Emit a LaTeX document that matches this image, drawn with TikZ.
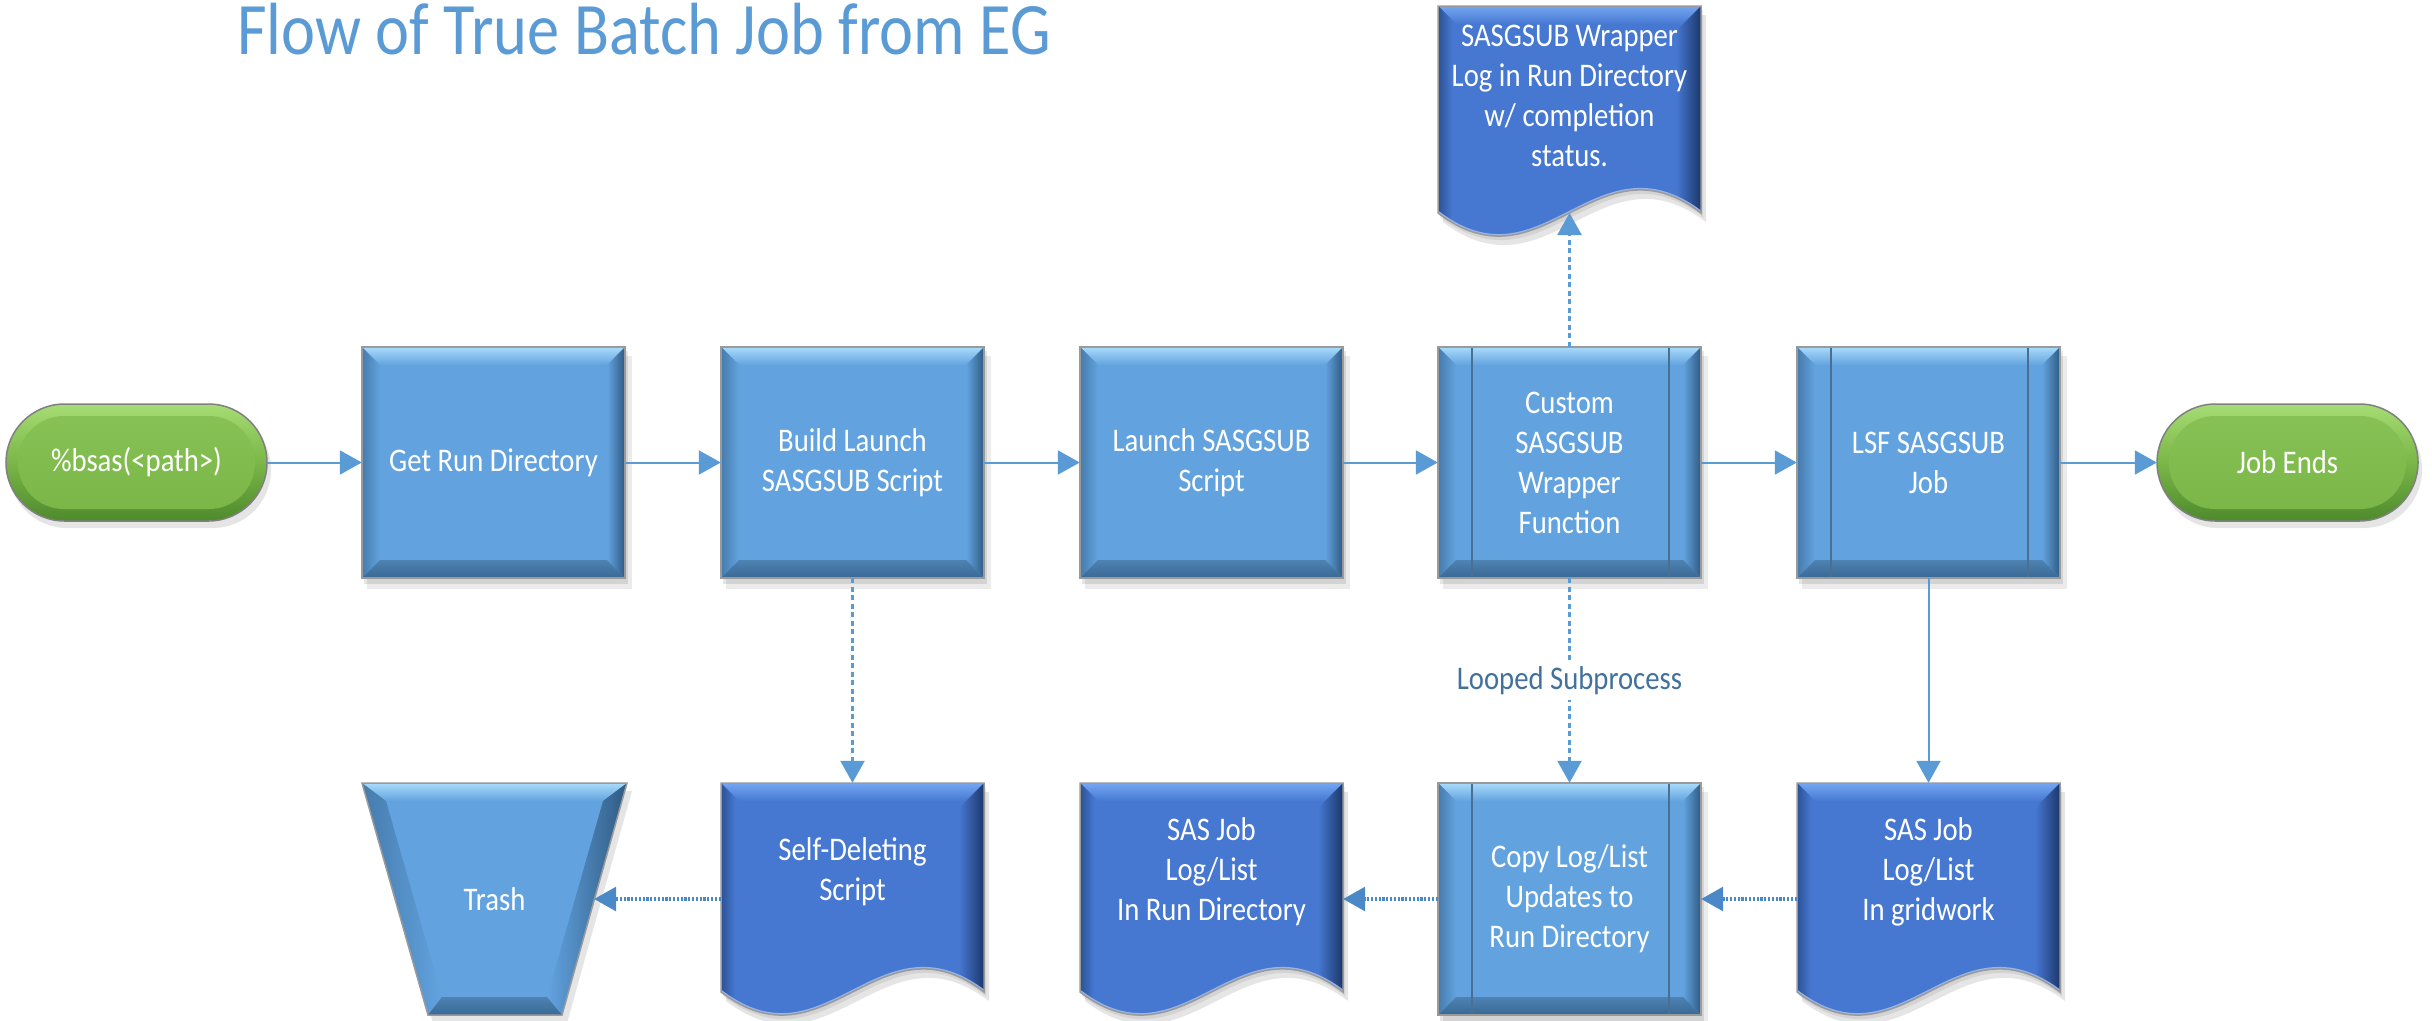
\documentclass[tikz,border=0pt]{standalone}
\usepackage{fontspec}
\setmainfont[FakeStretch=0.87]{Carlito}
\usetikzlibrary{arrows.meta}
\definecolor{boxmain}{HTML}{62A3DF}
\definecolor{bevlight}{HTML}{A9DBFB}
\definecolor{boxdark}{HTML}{2F5A82}
\definecolor{docmain}{HTML}{4678D2}
\definecolor{doclight}{HTML}{74A6F2}
\definecolor{docdark}{HTML}{1C376A}
\definecolor{grnmain}{HTML}{7AB648}
\definecolor{grnlight}{HTML}{A6DC74}
\definecolor{grndark}{HTML}{4E8A2C}
\definecolor{edgegray}{HTML}{9A9A9A}
\definecolor{linec}{HTML}{5B9BD5}
\definecolor{dotc}{HTML}{4A88C8}
\definecolor{titlec}{HTML}{5B9BD5}
\definecolor{labelc}{HTML}{41719C}
\definecolor{vlinec}{HTML}{4A6F94}

\tikzset{
  txt/.style={text=white, align=center, font=\fontsize{33}{40}\selectfont, inner sep=0pt},
  procnode/.style={txt, minimum width=263pt, minimum height=231pt},
  termnode/.style={txt, minimum width=261pt, minimum height=117pt},
  docnode/.style={inner sep=0pt, minimum width=263pt, minimum height=232pt},
  flow/.style={draw=linec, line width=2pt, -{Triangle[length=22pt,width=24pt]}},
  dashflow/.style={flow, line width=2.4pt, dash pattern=on 5pt off 3.5pt},
  dotflow/.style={flow, draw=dotc, line width=3.2pt, dash pattern=on 2.2pt off 1.6pt},
  looplabel/.style={fill=white, text=labelc, font=\fontsize{33}{40}\selectfont, inner sep=5pt},
}

% process box with bevel: left x, top y, height
\newcommand\procbox[3]{%
\begin{scope}[shift={(#1,#2)}]
 \fill[black,opacity=.08] (5,9) rectangle (270,#3+11);
 \fill[black,opacity=.10] (2,4) rectangle (266,#3+6);
 \fill[boxmain] (0,0) rectangle (263,#3);
 \shade[top color=bevlight, bottom color=boxmain] (0,0) -- (263,0) -- (245,18) -- (18,18) -- cycle;
 \shade[left color=boxdark!55!boxmain, right color=boxmain] (0,0) -- (18,18) -- (18,#3-18) -- (0,#3) -- cycle;
 \shade[left color=boxmain, right color=boxdark] (263,0) -- (245,18) -- (245,#3-18) -- (263,#3) -- cycle;
 \shade[top color=boxmain!80!black, bottom color=boxdark!80!boxmain] (0,#3) -- (18,#3-18) -- (245,#3-18) -- (263,#3) -- cycle;
 \draw[edgegray, line width=1.5pt] (0,0) rectangle (263,#3);
\end{scope}}

% predefined-process side lines
\newcommand\predef[3]{%
\begin{scope}[shift={(#1,#2)}]
 \draw[vlinec, line width=1.5pt] (34,1) -- (34,#3-1) (231,1) -- (231,#3-1);
\end{scope}}

% document shape: left x, top y, edge length
\newcommand\docshape[3]{%
\begin{scope}[shift={(#1,#2)}]
 \fill[black,opacity=.10] (5,9) -- (268,9) -- (268,#3+9) .. controls (163,#3-71) and (110,#3+89) .. (5,#3+9) -- cycle;
 \fill[black,opacity=.08] (2,4) -- (265,4) -- (265,#3+4) .. controls (160,#3-76) and (107,#3+84) .. (2,#3+4) -- cycle;
 \begin{scope}
  \clip (0,0) -- (263,0) -- (263,#3) .. controls (158,#3-80) and (105,#3+80) .. (0,#3) -- cycle;
  \fill[docmain] (0,0) rectangle (263,#3+40);
  \shade[top color=doclight, bottom color=docmain] (0,0) -- (263,0) -- (245,18) -- (18,18) -- cycle;
  \shade[left color=docmain, right color=docdark] (263,0) -- (238,25) -- (238,#3+40) -- (263,#3+40) -- cycle;
  \shade[left color=docdark!60!docmain, right color=docmain] (0,0) -- (14,14) -- (14,#3+40) -- (0,#3+40) -- cycle;
  \draw[docmain!55!white, line width=4pt] (263,#3) .. controls (158,#3-80) and (105,#3+80) .. (0,#3);
 \end{scope}
 \draw[edgegray, line width=1.5pt] (0,0) -- (263,0) -- (263,#3) .. controls (158,#3-80) and (105,#3+80) .. (0,#3) -- cycle;
\end{scope}}

% terminator: left x, top y
\newcommand\termshape[2]{%
\begin{scope}[shift={(#1,#2)}]
 \fill[black,opacity=.10, rounded corners=58pt] (3,7) rectangle (265,124);
 \shade[rounded corners=58.5pt, top color=grnlight, bottom color=grndark, middle color=grnmain] (0,0) rectangle (261,117);
 \shade[rounded corners=46pt, top color=grnmain!70!grnlight, bottom color=grnmain] (12,12) rectangle (249,105);
 \draw[gray, line width=1.5pt, rounded corners=58.5pt] (0,0) rectangle (261,117);
\end{scope}}

\begin{document}
\begin{tikzpicture}[x=1pt,y=-1pt]
\fill[white] (0,0) rectangle (2432,1020);
\useasboundingbox (0,0) rectangle (2432,1020);

% ---- shapes ----
\termshape{6}{404}
\termshape{2157}{404}
\procbox{362}{347}{231}
\procbox{721}{347}{231}
\procbox{1080}{347}{231}
\procbox{1438}{347}{231}\predef{1438}{347}{231}
\procbox{1797}{347}{231}\predef{1797}{347}{231}
\docshape{1438}{6}{207}
% trash
\fill[black,opacity=.10] (367,791) -- (632,791) -- (567,1023) -- (433,1023) -- cycle;
\fill[boxmain] (362,783) -- (627,783) -- (562,1015) -- (428,1015) -- cycle;
\shade[top color=bevlight, bottom color=boxmain] (362,783) -- (627,783) -- (603,801) -- (386,801) -- cycle;
\shade[left color=boxdark!55!boxmain, right color=boxmain] (362,783) -- (386,801) -- (442,997) -- (428,1015) -- cycle;
\shade[left color=boxmain, right color=boxdark] (627,783) -- (603,801) -- (547,997) -- (562,1015) -- cycle;
\shade[top color=boxmain!80!black, bottom color=boxdark!80!boxmain] (428,1015) -- (442,997) -- (547,997) -- (562,1015) -- cycle;
\draw[edgegray, line width=1.5pt] (362,783) -- (627,783) -- (562,1015) -- (428,1015) -- cycle;
\docshape{721}{783}{209}
\docshape{1080}{783}{209}
\procbox{1438}{783}{232}\predef{1438}{783}{232}
\docshape{1797}{783}{209}

% ---- title ----
\node[anchor=base west, inner sep=0pt, text=titlec, font=\fontsize{74}{90}\selectfont] (title) at (237,54) {Flow of True Batch Job from EG};

% ---- nodes ----
\node[termnode] (start) at (136.5,462.5) {\%bsas(<path>)};
\node[procnode] (get) at (493.5,462.5) {Get Run Directory};
\node[procnode] (build) at (852.5,462.5) {Build Launch\\SASGSUB Script};
\node[procnode] (launch) at (1211.5,462.5) {Launch SASGSUB\\Script};
\node[procnode] (custom) at (1569.5,462.5) {Custom\\SASGSUB\\Wrapper\\Function};
\node[procnode] (lsf) at (1928.5,462.5) {LSF SASGSUB\\Job};
\node[termnode] (jobend) at (2287.5,462.5) {Job Ends};

\node[txt] (wraptext) at (1569.5,96) {SASGSUB Wrapper\\Log in Run Directory\\w/ completion\\status.};
\coordinate (wrapwave) at (1569.5,213);

\node[txt, minimum width=199pt, minimum height=232pt] (trash) at (494.5,899) {Trash};
\node[docnode] (selfdel) at (852.5,899) {};
\node[txt] (selfdeltext) at (852.5,872) {Self-Deleting\\Script};
\node[docnode] (rundir) at (1211.5,899) {};
\node[txt] (rundirtext) at (1211.5,872) {SAS Job\\Log/List\\In Run Directory};
\node[procnode, minimum height=232pt] (copy) at (1569.5,899) {Copy Log/List\\Updates to\\Run Directory};
\node[docnode] (grid) at (1928.5,899) {};
\node[txt] (gridtext) at (1928.5,872) {SAS Job\\Log/List\\In gridwork};

% ---- connectors ----
\draw[flow] (start) -- (get);
\draw[flow] (get) -- (build);
\draw[flow] (build) -- (launch);
\draw[flow] (launch) -- (custom);
\draw[flow] (custom) -- (lsf);
\draw[flow] (lsf) -- (jobend);
\draw[dashflow] (custom) -- (wrapwave);
\draw[dashflow] (build) -- (selfdel);
\draw[dashflow] (custom) -- node[looplabel] (loop) {Looped Subprocess} (copy);
\draw[flow] (lsf) -- (grid);
\draw[dotflow] (grid) -- (copy);
\draw[dotflow] (copy) -- (rundir);
\draw[dotflow] (selfdel) -- (trash);
\end{tikzpicture}
\end{document}
